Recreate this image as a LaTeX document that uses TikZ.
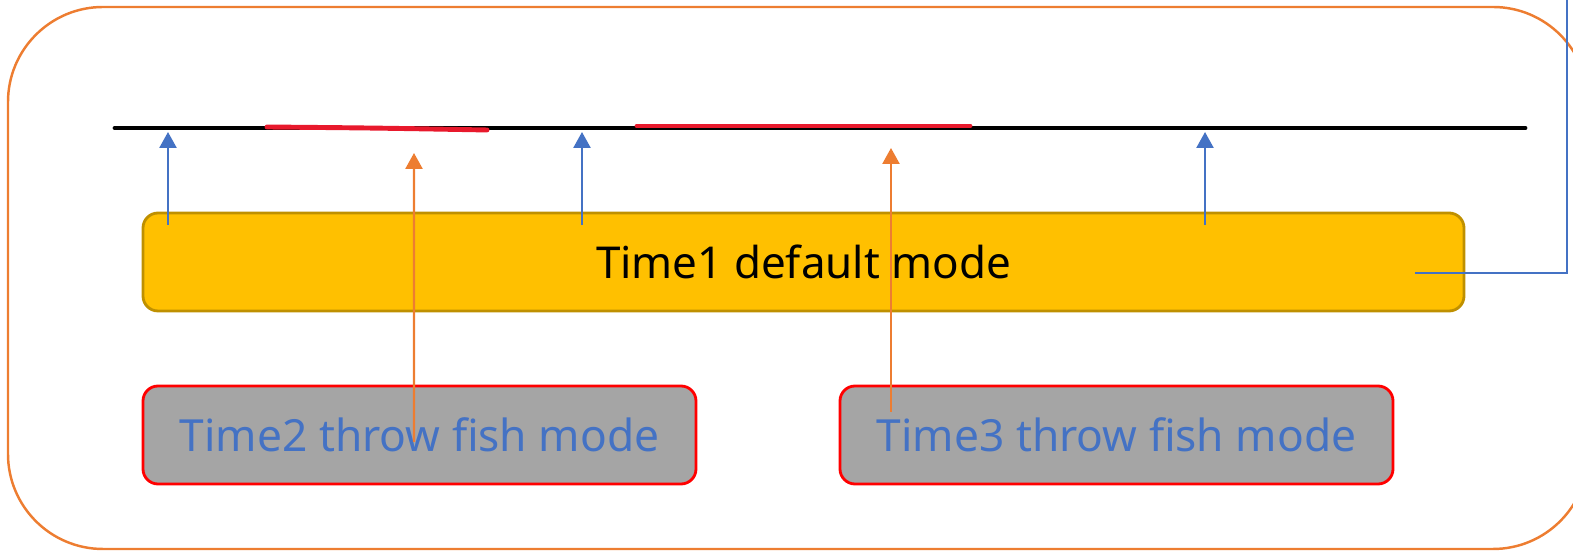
\documentclass[tikz,border=0pt]{standalone}
\usepackage{fontspec}
\setmainfont{Noto Sans}
\usetikzlibrary{arrows.meta, positioning, calc}
\definecolor{frameorange}{HTML}{ED7D31}
\definecolor{linkblue}{HTML}{4472C4}
\definecolor{modegold}{HTML}{FFC000}
\definecolor{golddraw}{HTML}{BF9000}
\definecolor{fishgray}{HTML}{A5A5A5}
\definecolor{markred}{HTML}{E8192C}
\tikzset{%
  frame/.style={draw=frameorange, line width=1.4pt, rounded corners=1.9cm},
  timeline/.style={line width=2.8pt, line cap=round},
  redmark/.style={draw=markred, line width=2.8pt, line cap=round},
  defaultbox/.style={draw=golddraw, line width=1.6pt, fill=modegold, rounded corners=0.3cm,
    minimum width=26.42cm, minimum height=1.96cm, inner sep=0pt, font=\fontsize{25}{30}\selectfont},
  fishbox/.style={draw=red, line width=1.6pt, fill=fishgray, rounded corners=0.3cm,
    minimum width=11.06cm, minimum height=1.96cm, inner sep=0pt, text=linkblue,
    font=\fontsize{25.2}{30}\selectfont},
  up/.style={draw=linkblue, line width=1.4pt, -{Triangle[width=0.34cm,length=0.32cm]}},
  fishup/.style={draw=frameorange, line width=1.4pt, -{Triangle[width=0.34cm,length=0.32cm]}},
  link/.style={draw=linkblue, line width=1.6pt}
}
\begin{document}
\begin{tikzpicture}
  \useasboundingbox (0,0) rectangle (31.46,11.04);
  \clip (0,0) rectangle (31.46,11.04);

  % outer frame, runs past the right and bottom edges
  \draw[frame] (0.16,0.06) rectangle (31.76,10.90);

  % time line
  \coordinate (start) at (2.30,8.48);
  \coordinate (end) at (30.50,8.48);
  \draw[timeline] (start) -- (end);
  \draw[redmark] (5.34,8.50) .. controls (7.5,8.48) .. (9.74,8.44);
  \draw[redmark] (12.74,8.52) -- (19.40,8.52);

  % modes
  \node[defaultbox] (time1) at (16.07,5.80) {Time1 default mode};
  \node[fishbox] (time2) at (8.39,2.34) {Time2 throw fish mode};
  \node[fishbox] (time3) at (22.33,2.34) {Time3 throw fish mode};

  % default mode points
  \foreach \x [count=\i] in {3.36,11.64,24.10} {
    \coordinate (a\i) at (\x,8.40);
    \coordinate (b\i) at (\x,6.54);
    \draw[up] (b\i) -- (a\i);
  }

  % throw fish points
  \coordinate (f2) at (8.28,7.98);
  \coordinate (f3) at (17.82,8.08);
  \draw[fishup] ($(time2.center)+(-0.11,-0.14)$) -- (f2);
  \draw[fishup] ($(time3.center)+(-4.51,0.46)$) -- (f3);

  % link out of the picture
  \coordinate (bend) at (31.34,5.58);
  \coordinate (out) at (31.34,11.10);
  \draw[link] ($(time1.center)+(12.23,-0.22)$) -- (bend) -- (out);
\end{tikzpicture}
\end{document}
